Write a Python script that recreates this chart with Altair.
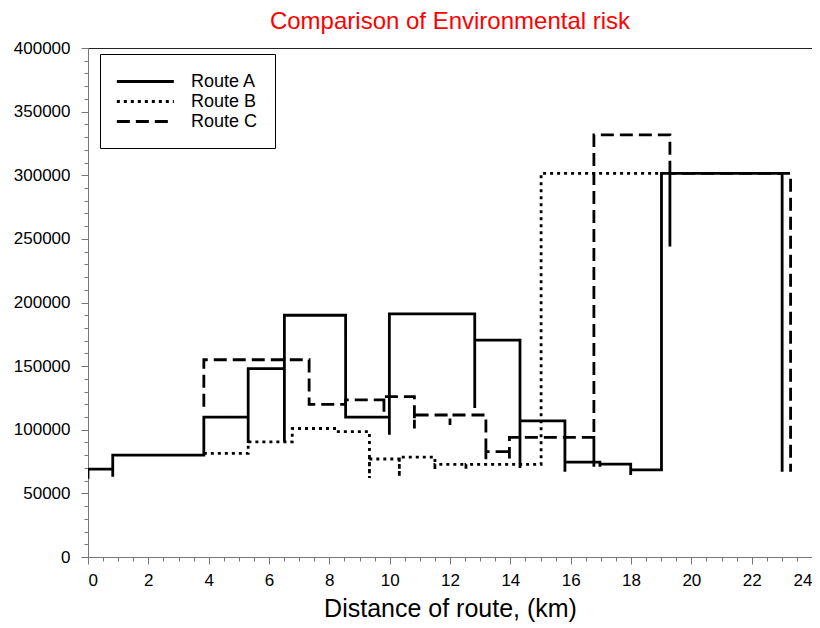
import altair as alt
import pandas as pd

# Route A: segment boundaries (km), risk level of each segment, low end of the drop line at each boundary
route_a_km = [0, 0.82, 3.84, 5.31, 6.51, 8.54, 9.99, 12.82, 14.32, 15.81, 16.97, 17.99, 19.01, 23.01]
route_a_level = [69000, 80000, 110000, 148000, 190000, 110000, 191000, 170500, 107000, 74500, 73000, 68500, 301500]
route_a_drop = [61500, 63000, None, 89500, 90500, None, 96000, 117000, 70000, 67000, 71000, 64500, None, 67000]

# Route B
route_b_km = [3.84, 5.31, 6.77, 8.24, 9.33, 10.32, 11.5, 12.53, 15.02, 19.01]
route_b_level = [81500, 90500, 101000, 98500, 77000, 78500, 72800, 72800, 301500]
route_b_drop = [None, None, None, None, 62000, 63000, 68400, 68400, None, None]

# Route C
route_c_km = [3.84, 7.33, 8.54, 9.81, 10.82, 12.0, 13.19, 13.97, 16.77, 19.29, 23.29]
route_c_level = [155000, 120000, 123500, 126000, 111600, 111600, 82800, 94000, 331700, 301500]
route_c_drop = [118000, None, None, 114200, 101000, 103700, 76800, 77500, 71000, 244000, 67000]

routes = ["Route A", "Route B", "Route C"]
x_ticks = list(range(0, 25, 2))
y_ticks = list(range(0, 400001, 50000))


def build(name, xs, levels, drops):
    rows = []

    def add(x, y):
        rows.append({"route": name, "km": x, "risk": y, "seq": len(rows)})

    if drops[0] is not None:
        add(xs[0], drops[0])
    add(xs[0], levels[0])
    for i in range(1, len(xs) - 1):
        add(xs[i], levels[i - 1])
        if drops[i] is not None:
            add(xs[i], drops[i])
        add(xs[i], levels[i])
    add(xs[-1], levels[-1])
    if drops[-1] is not None:
        add(xs[-1], drops[-1])
    return rows


df = pd.DataFrame(
    build(routes[0], route_a_km, route_a_level, route_a_drop)
    + build(routes[1], route_b_km, route_b_level, route_b_drop)
    + build(routes[2], route_c_km, route_c_level, route_c_drop)
)

FONT = "Liberation Sans"
xscale = alt.Scale(domain=[0, 24], nice=False, zero=False)
yscale = alt.Scale(domain=[0, 400000], nice=False)

lines = alt.Chart(df).mark_line(color="black", strokeWidth=2.8, clip=True).encode(
    x=alt.X("km:Q", scale=xscale,
            axis=alt.Axis(values=x_ticks, title="Distance of route, (km)", orient="bottom",
                          tickSize=7, labelPadding=8, titlePadding=8, titleFontSize=25,
                          titleFontWeight="normal", titleFont=FONT, titleColor="black",
                          labelFont=FONT, labelFontSize=17, labelColor="black",
                          domainColor="#777", tickColor="#777", grid=False)),
    y=alt.Y("risk:Q", scale=yscale,
            axis=alt.Axis(values=y_ticks, title=None, format="d", orient="left",
                          tickSize=7, labelPadding=11, labelFont=FONT, labelFontSize=17,
                          labelColor="black", domainColor="#777", tickColor="#777", grid=False)),
    order="seq:Q",
    strokeDash=alt.StrokeDash(
        "route:N",
        scale=alt.Scale(domain=routes, range=[[1, 0], [3, 4], [13, 6]]),
        legend=alt.Legend(title=None, orient="none", legendX=12, legendY=6,
                          strokeColor="black", fillColor="white", padding=17,
                          symbolType="M-1.231,0H5.351", symbolSize=300, symbolStrokeWidth=2.8,
                          symbolStrokeColor="black", labelFont=FONT, labelFontSize=18,
                          labelOffset=53, rowPadding=0,
                          labelExpr="datum.label + '\u2009\u2009'"),
    ),
)

minor = alt.Chart(df).mark_point(opacity=0).encode(
    x=alt.X("km:Q", scale=xscale,
            axis=alt.Axis(values=[v / 2 for v in range(0, 49)], labels=False, title=None,
                          orient="bottom", tickSize=4, domain=False, tickColor="#777", grid=False)),
    y=alt.Y("risk:Q", scale=yscale,
            axis=alt.Axis(values=list(range(0, 400001, 10000)), labels=False, title=None,
                          orient="left", tickSize=4, domain=False, tickColor="#777", grid=False)),
)

chart = alt.layer(minor, lines).resolve_axis(x="independent", y="independent").properties(
    width=724,
    height=509,
    autosize=alt.AutoSizeParams(type="none"),
    padding={"left": 80, "top": 40, "right": 0, "bottom": 70},
    title=alt.Title("Comparison of Environmental risk", color="red", fontSize=24,
                    font=FONT, fontWeight="normal", anchor="middle", frame="group",
                    offset=5),
).configure_view(stroke="#222", strokeWidth=1)

chart.save("out.html", embed_options={"renderer": "svg", "actions": False})
